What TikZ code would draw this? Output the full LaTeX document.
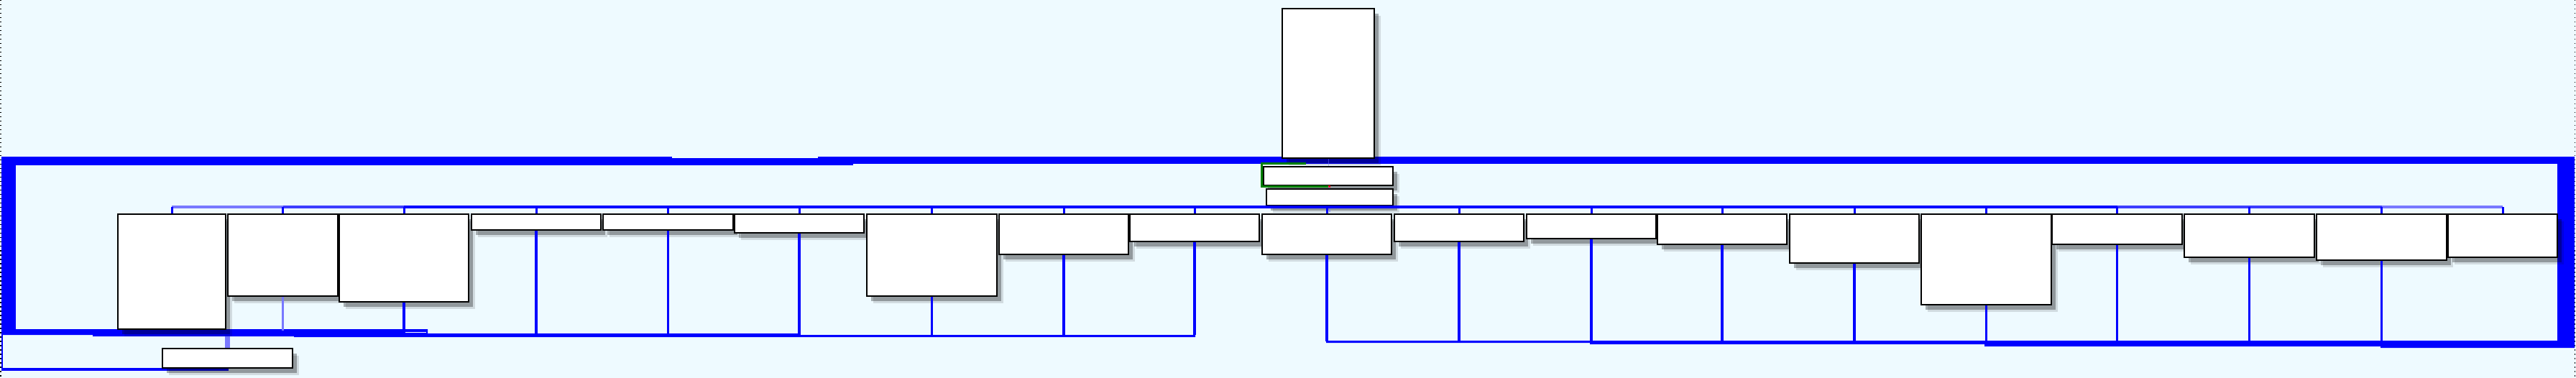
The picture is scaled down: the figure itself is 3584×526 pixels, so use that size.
\documentclass[tikz,border=0pt]{standalone}
\usepackage{tikz}
\usetikzlibrary{shadows}
\definecolor{paleazure}{RGB}{238,250,255}
\definecolor{orgblue}{RGB}{0,0,255}
\definecolor{midorgblue}{RGB}{60,60,255}
\definecolor{lightorgblue}{RGB}{120,120,255}
\definecolor{framegreen}{RGB}{0,128,0}

\begin{document}
\begin{tikzpicture}[x=1pt, y=-1pt,
    unitbox/.style={draw=black, line width=2pt, fill=white, inner sep=0pt, anchor=north west,
      drop shadow={shadow xshift=9pt, shadow yshift=-10pt, fill=black, opacity=0.12},
      drop shadow={shadow xshift=6pt, shadow yshift=-7pt, fill=black, opacity=0.3}},
    busline/.style={draw=orgblue, line width=4pt},
    drop/.style={draw=orgblue, line width=3.5pt}]

    % Page and its dotted edges
    \useasboundingbox (0,0) rectangle (3584,526);
    \fill[paleazure] (0,0) rectangle (3584,526);
    \draw[line width=1.5pt, dash pattern=on 1.5pt off 4.5pt] (0.75,0) -- (0.75,526);
    \draw[line width=1.5pt, dash pattern=on 1.5pt off 4.5pt] (3582.5,0) -- (3582.5,526);

    % Thick frame round the row of units
    \fill[orgblue] (2,218) rectangle (935,230);
    \fill[orgblue] (935,220) rectangle (1138,230);
    \fill[orgblue] (1138,218) rectangle (1187,230);
    \fill[orgblue] (1187,218) rectangle (3582,228);
    \fill[orgblue] (2,218) rectangle (22,466);
    \fill[orgblue] (3558,218) rectangle (3582,484);
    \fill[orgblue] (2,458) -- (595,458) -- (595,464) -- (1112,464) -- (1112,466) -- (1663,466)
        -- (1663,469) -- (409,469) -- (409,468) -- (129,468) -- (129,466) -- (2,466) -- cycle;
    \draw[white, line width=1.5pt] (564,462.5) -- (593,462.5);
    \fill[orgblue] (1845,474) -- (3582,474) -- (3582,484) -- (3312,484) -- (3312,482) -- (2761,482)
        -- (2761,479) -- (2212,479) -- (2212,477) -- (1845,477) -- cycle;

    % Outline under the frame on the left
    \draw[orgblue, line width=2pt] (3,466) -- (3,516);
    \fill[orgblue] (2,512) rectangle (318,516);

    % Head of the chart
    \node[unitbox, minimum width=128pt, minimum height=208pt] (top) at (1783,11) {};
    \node[unitbox, minimum width=180pt, minimum height=26pt] (deputy) at (1757,231) {};
    \node[unitbox, minimum width=176pt, minimum height=23pt] (office) at (1761,262) {};
    \draw[framegreen, line width=3pt] (1817,227.5) -| (1755.5,260) -- (1848,260);
    \draw[red, line width=3pt] (1848,260) -- (1851,260);

    % Row of units
    \node[unitbox, minimum width=150pt, minimum height=160pt] (u1) at (163,297) {};
    \node[unitbox, minimum width=153pt, minimum height=114pt] (u2) at (316,297) {};
    \node[unitbox, minimum width=180pt, minimum height=122pt] (u3) at (471,297) {};
    \node[unitbox, minimum width=180pt, minimum height=22pt] (u4) at (655,297) {};
    \node[unitbox, minimum width=181pt, minimum height=22pt] (u5) at (838,297) {};
    \node[unitbox, minimum width=180pt, minimum height=26pt] (u6) at (1021,297) {};
    \node[unitbox, minimum width=181pt, minimum height=114pt] (u7) at (1205,297) {};
    \node[unitbox, minimum width=180pt, minimum height=56pt] (u8) at (1389,297) {};
    \node[unitbox, minimum width=180pt, minimum height=38pt] (u9) at (1571,297) {};
    \node[unitbox, minimum width=180pt, minimum height=56pt] (u10) at (1755,297) {};
    \node[unitbox, minimum width=180pt, minimum height=38pt] (u11) at (1939,297) {};
    \node[unitbox, minimum width=180pt, minimum height=34pt] (u12) at (2123,297) {};
    \node[unitbox, minimum width=180pt, minimum height=42pt] (u13) at (2305,297) {};
    \node[unitbox, minimum width=180pt, minimum height=68pt] (u14) at (2489,297) {};
    \node[unitbox, minimum width=181pt, minimum height=126pt] (u15) at (2672,297) {};
    \node[unitbox, minimum width=181pt, minimum height=42pt] (u16) at (2854,297) {};
    \node[unitbox, minimum width=181pt, minimum height=60pt] (u17) at (3038,297) {};
    \node[unitbox, minimum width=181pt, minimum height=64pt] (u18) at (3222,297) {};
    \node[unitbox, minimum width=152pt, minimum height=60pt] (u19) at (3405,297) {};

    % Unit below the frame
    \node[unitbox, minimum width=181pt, minimum height=27pt] (annex) at (225,484) {};
    \draw[lightorgblue, line width=7pt] (annex.north) -- ++(0,-16);

    % Faint links down from the head
    \draw[lightorgblue, line width=1pt, opacity=0.5] (top.south) -- (deputy.north);
    \draw[lightorgblue, line width=1pt, opacity=0.5] (deputy.south) -- (office.north);
    \draw[lightorgblue, line width=2pt, opacity=0.6] (office.south) -- ++(0,8);

    % Bus over the units
    \coordinate (bus) at (0,288.5);
    \coordinate (leftbus) at (0,466);
    \coordinate (rightbus) at (0,475);
    \draw[busline, lightorgblue] (u1.north |- bus) -- (u2.north |- bus);
    \draw[busline, midorgblue] (u2.north |- bus) -- (u3.north |- bus);
    \draw[busline] (u3.north |- bus) -- (u16.north |- bus);
    \draw[busline, midorgblue] (u16.north |- bus) -- (u18.north |- bus);
    \draw[busline, lightorgblue] (u18.north |- bus) -- (u19.north |- bus);
    \foreach \i in {1,...,19}
        \draw[drop, line width=3pt] (u\i.north |- bus) -- (u\i.north);

    % Drops from the units to the bottom lines
    \draw[drop, lightorgblue] (u2.south) -- ++(0,47);
    \draw[drop] (u3.south) -- ++(0,39);
    \foreach \i in {4,...,9}
        \draw[drop] (u\i.south) -- (u\i.south |- leftbus);
    \foreach \i in {10,...,18}
        \draw[drop] (u\i.south) -- (u\i.south |- rightbus);
\end{tikzpicture}
\end{document}
